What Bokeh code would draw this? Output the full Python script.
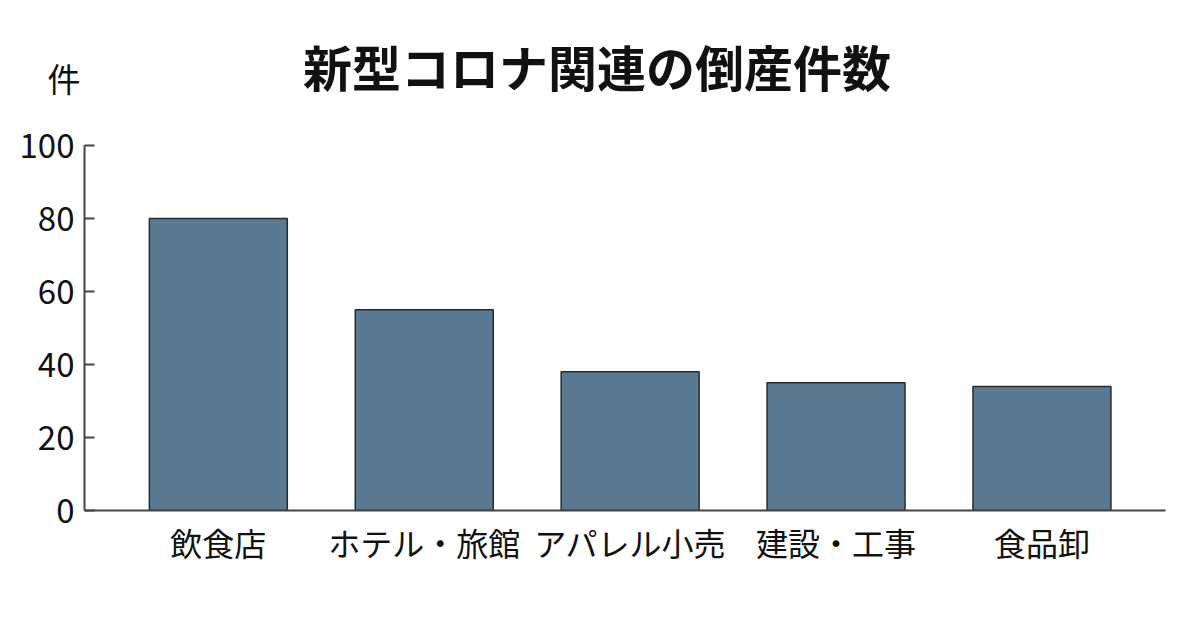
from bokeh.plotting import figure
from bokeh.models import Range1d, FixedTicker, Div
from bokeh.layouts import column
from bokeh.embed import file_html
from bokeh.resources import INLINE

title_text = "新型コロナ関連の倒産件数"
unit_text = "件"
categories = ["飲食店", "ホテル・旅館", "アパレル小売", "建設・工事", "食品卸"]
counts = [80, 55, 38, 35, 34]
y_ticks = [0, 20, 40, 60, 80, 100]

FONT = "Noto Sans CJK JP"
xs = list(range(len(categories)))

W = 1190
HEAD = 100          # height of the heading block
FH = 620 - HEAD     # figure height
FT = 145 - HEAD     # frame top inside the figure
FB = 510 - HEAD     # frame bottom inside the figure

head_html = (
    f'<div style="position:relative;width:{W}px;height:{HEAD}px;font-family:\'{FONT}\';color:#111;">'
    f'<div style="position:absolute;left:0;width:{2*597}px;top:{66-35}px;height:70px;line-height:70px;'
    f'text-align:center;font-size:49px;font-weight:bold;white-space:nowrap;">{title_text}</div>'
    f'<div style="position:absolute;left:{64-30}px;width:60px;top:{78-24}px;height:48px;line-height:48px;'
    f'text-align:center;font-size:33px;white-space:nowrap;">{unit_text}</div>'
    f'</div>'
)
head = Div(text=head_html, width=W, height=HEAD, margin=(0, 0, 0, 0))

p = figure(width=W, height=FH, output_backend="svg", toolbar_location=None,
           x_range=Range1d(-0.65, 4.6), y_range=Range1d(0, 100),
           min_border_left=84, min_border_right=W - 1165, min_border_top=FT,
           min_border_bottom=FH - FB, margin=(0, 0, 0, 0))
p.background_fill_color = "white"
p.border_fill_color = "white"
p.outline_line_color = None
p.grid.grid_line_color = None

p.vbar(x=xs, top=counts, width=0.67, bottom=0,
       fill_color="#5a7a93", line_color="#2a2a2a", line_width=1.5)

# y axis
ya = p.yaxis[0]
ya.ticker = FixedTicker(ticks=y_ticks)
ya.axis_line_color = "#444444"
ya.axis_line_width = 2
ya.major_tick_line_color = "#444444"
ya.major_tick_line_width = 2
ya.major_tick_in = 10
ya.major_tick_out = 0
ya.minor_tick_line_color = None
ya.major_label_text_font = FONT
ya.major_label_text_font_size = "33px"
ya.major_label_text_color = "#111111"
ya.major_label_standoff = 10

# x axis
xa = p.xaxis[0]
xa.ticker = FixedTicker(ticks=xs)
xa.major_label_overrides = {i: c for i, c in enumerate(categories)}
xa.axis_line_color = "#444444"
xa.axis_line_width = 2
xa.major_tick_line_color = None
xa.minor_tick_line_color = None
xa.major_label_text_font = FONT
xa.major_label_text_font_size = "32px"
xa.major_label_text_color = "#111111"
xa.major_label_standoff = 2

layout = column(head, p, spacing=0)
open("out.html", "w").write(file_html(layout, INLINE))
